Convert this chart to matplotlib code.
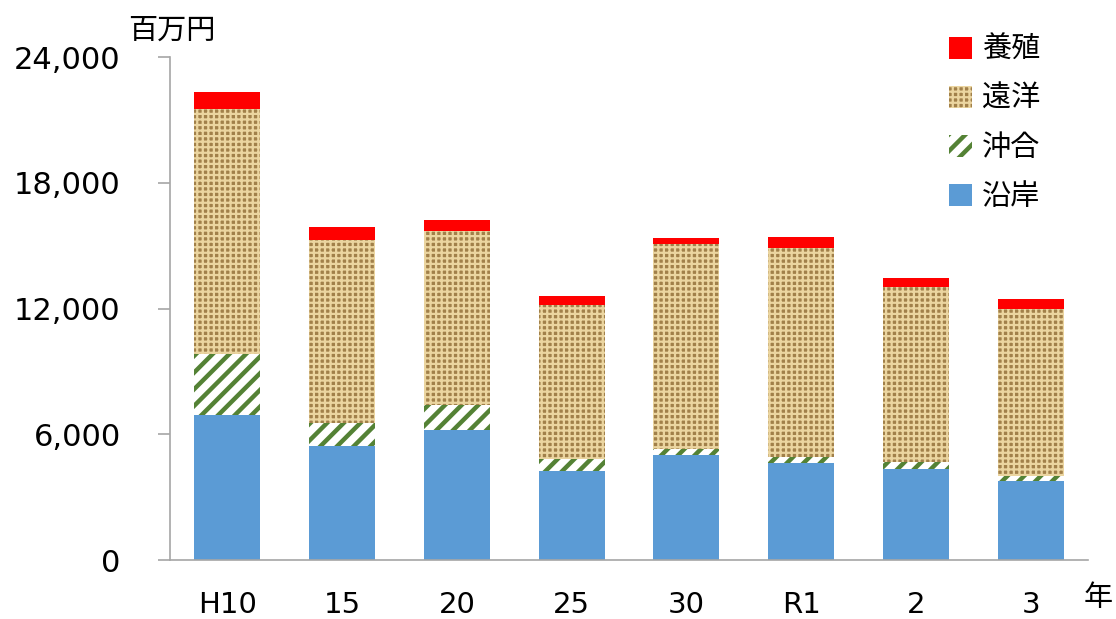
import numpy as np
import matplotlib
matplotlib.use('Agg')
import matplotlib.pyplot as plt
from matplotlib.ticker import FuncFormatter

plt.rcParams['font.family'] = ['DejaVu Sans', 'Noto Sans CJK JP']

# ---- data (百万円) ----
years = ['H10', '15', '20', '25', '30', 'R1', '2', '3']
engan = [6920, 5440, 6200, 4250, 5010, 4650, 4340, 3770]     # 沿岸
okiai = [2910, 1100, 1200, 570, 270, 270, 320, 240]          # 沖合
enyo = [11670, 8720, 8300, 7340, 9780, 9960, 8360, 7960]     # 遠洋
yoshoku = [820, 620, 520, 430, 300, 530, 430, 480]           # 養殖

fig = plt.figure(figsize=(11.16, 6.19), dpi=100)
ax = fig.add_axes([0.1523, 0.0953, 0.8226, 0.8126])

x = np.arange(len(years))
w = 0.575
b1 = np.array(engan)
b2 = b1 + np.array(okiai)
b3 = b2 + np.array(enyo)


def hatch_lw(bars, lw):
    # per-bar hatch width, if this matplotlib supports it
    for p in bars:
        if hasattr(p, 'set_hatch_linewidth'):
            p.set_hatch_linewidth(lw)


h1 = ax.bar(x, engan, w, color='#5B9BD5', linewidth=0, label='沿岸')
h2 = ax.bar(x, okiai, w, bottom=b1, facecolor='white', edgecolor='#548235',
            hatch='//', linewidth=0, label='沖合')
hatch_lw(h2, 3.2)
# burlap-like texture for 遠洋
h3 = ax.bar(x, enyo, w, bottom=b2, facecolor='#A1804A', edgecolor='#EBD5A0',
            hatch='+++', linewidth=0, label='遠洋')
hatch_lw(h3, 1.6)
h4 = ax.bar(x, yoshoku, w, bottom=b3, color='#FF0000', linewidth=0, label='養殖')

ax.set_xlim(-0.5, len(years) - 0.5)
ax.set_ylim(0, 24000)
ax.set_yticks([0, 6000, 12000, 18000, 24000])
ax.yaxis.set_major_formatter(FuncFormatter(lambda v, p: f'{int(v):,}'))
ax.set_xticks(x)
ax.set_xticklabels(years)

for s in ['top', 'right']:
    ax.spines[s].set_visible(False)
for s in ['left', 'bottom']:
    ax.spines[s].set_color('#A6A6A6')
    ax.spines[s].set_linewidth(1.2)
ax.tick_params(axis='y', length=8.5, width=1.2, color='#A6A6A6', labelsize=22, pad=27)
ax.tick_params(axis='x', length=0, labelsize=21, pad=22)

fig.text(128 / 1116, 1 - 31 / 619, '百万円', fontsize=21, ha='left', va='center')
fig.text(1084 / 1116, 1 - 598 / 619, '年', fontsize=21, ha='left', va='center')

leg = ax.legend([h4, h3, h2, h1], ['養殖', '遠洋', '沖合', '沿岸'], loc='upper left',
                bbox_to_anchor=(949 / 1116, 1 - 36 / 619), bbox_transform=fig.transFigure,
                frameon=False, fontsize=21, borderpad=0, borderaxespad=0,
                handlelength=0.8, handleheight=0.8, labelspacing=0.72, handletextpad=0.34)
# legend swatches get the same hatch widths as the bars
hatch_lw([leg.legend_handles[1]], 1.6)
hatch_lw([leg.legend_handles[2]], 3.2)

fig.savefig('out.png', dpi=100)
